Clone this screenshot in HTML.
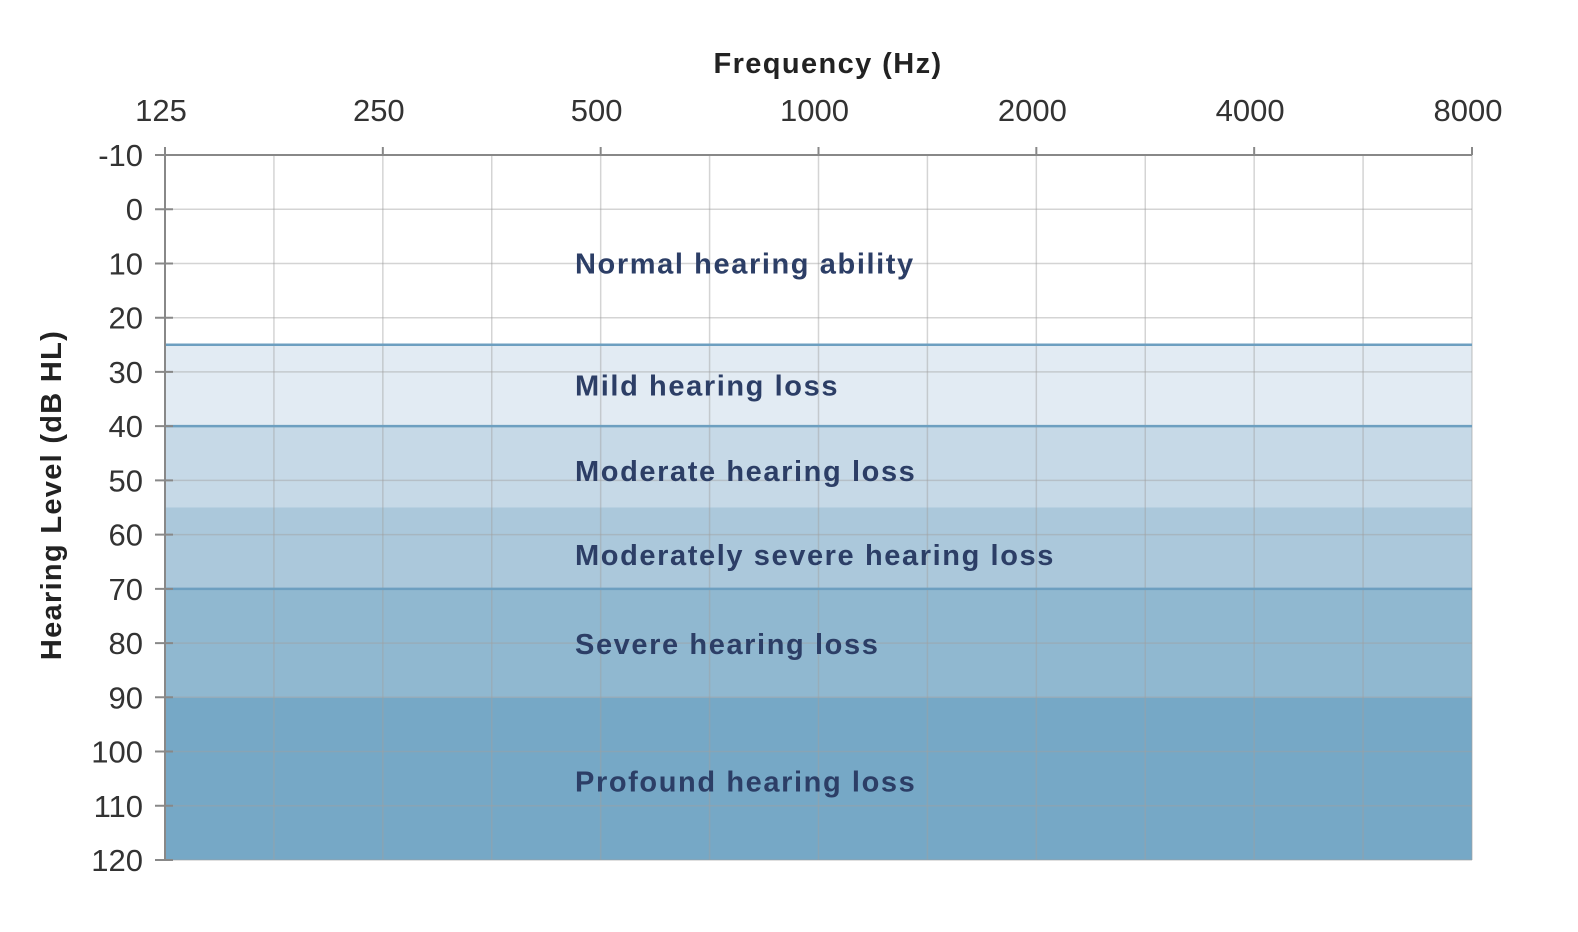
<!DOCTYPE html>
<html><head><meta charset="utf-8"><style>
body{margin:0;background:#fff;}
svg{display:block;font-family:"Liberation Sans",sans-serif;}
</style></head><body>
<svg id="chart" width="1578" height="932" viewBox="0 0 1578 932"></svg>
<script>
const freqs=[125,250,500,1000,2000,4000,8000];
const freqLabels=["125","250","500","1000","2000","4000","8000"];
const dbTicks=[-10,0,10,20,30,40,50,60,70,80,90,100,110,120];
const bandNames=["Mild hearing loss","Moderate hearing loss","Moderately severe hearing loss","Severe hearing loss","Profound hearing loss"];
const bandFrom=[25,40,55,70,90];
const bandTo=[40,55,70,90,120];
const bandLineAt=[25,40,70];
const labelNames=["Normal hearing ability","Mild hearing loss","Moderate hearing loss","Moderately severe hearing loss","Severe hearing loss","Profound hearing loss"];
const labelDb=[10,32.5,48.3,63.8,80.2,105.5];

const L=165,R=1472,T=155,B=860;
const NS="http://www.w3.org/2000/svg";
const svg=document.getElementById('chart');
const x=f=>L+(Math.log2(f/125))/6*(R-L);
const y=d=>T+(d+10)/130*(B-T);
function el(t,a,p){const e=document.createElementNS(NS,t);for(const k in a)e.setAttribute(k,a[k]);(p||svg).appendChild(e);return e;}
const colors=["#e2ebf3","#c6d9e7","#abc8db","#90b8d0","#76a8c6"];
bandFrom.forEach((f,i)=>{
  const r=el('rect',{x:L,y:y(f),width:R-L,height:y(bandTo[i])-y(f),fill:colors[i]});
  
  
});
dbTicks.forEach(d=>{
  const g=el('line',{x1:L,x2:R,y1:y(d),y2:y(d),stroke:'rgba(160,160,160,0.45)','stroke-width':1.5});
  
  
});
for(let i=0;i<=12;i++){
  const f=125*Math.pow(2,i/2);
  const g=el('line',{x1:x(f),x2:x(f),y1:T,y2:B,stroke:'rgba(160,160,160,0.45)','stroke-width':1.5});
  
  
}
bandLineAt.forEach(d=>{
  const l=el('line',{x1:L,x2:R,y1:y(d),y2:y(d),stroke:'#6d9fc0','stroke-width':2.5});
  
  
});
let a=el('line',{x1:L,x2:R,y1:T,y2:T,stroke:'#888','stroke-width':2});


a=el('line',{x1:L,x2:L,y1:T-6,y2:B,stroke:'#888','stroke-width':2});


freqs.forEach((f,i)=>{
  const tk=el('line',{x1:x(f),x2:x(f),y1:T-8,y2:T,stroke:'#888','stroke-width':2});
  
  
  const t=el('text',{x:x(f)-4,y:121,'text-anchor':'middle','font-size':31,fill:'#333'});
  t.textContent=freqLabels[i];
  
  
});
dbTicks.forEach(d=>{
  const tk=el('line',{x1:155,x2:173,y1:y(d),y2:y(d),stroke:'#888','stroke-width':2});
  
  
  const t=el('text',{x:143,y:y(d)+11,'text-anchor':'end','font-size':31,fill:'#333'});
  t.textContent=String(d);
  
  
});
labelNames.forEach((n,i)=>{
  const t=el('text',{x:575,y:y(labelDb[i])+10,'font-size':29,'font-weight':'bold',fill:'#2c3e66','letter-spacing':1.6});
  t.textContent=n;
  
  
});
let tt=el('text',{x:828,y:73,'text-anchor':'middle','font-size':29,'font-weight':'bold',fill:'#222','letter-spacing':1.4});
tt.textContent='Frequency (Hz)';


tt=el('text',{x:0,y:0,'text-anchor':'middle','font-size':29,'font-weight':'bold',fill:'#222','letter-spacing':1.3,transform:'translate(61,495) rotate(-90)'});
tt.textContent='Hearing Level (dB HL)';


</script>
</body></html>
